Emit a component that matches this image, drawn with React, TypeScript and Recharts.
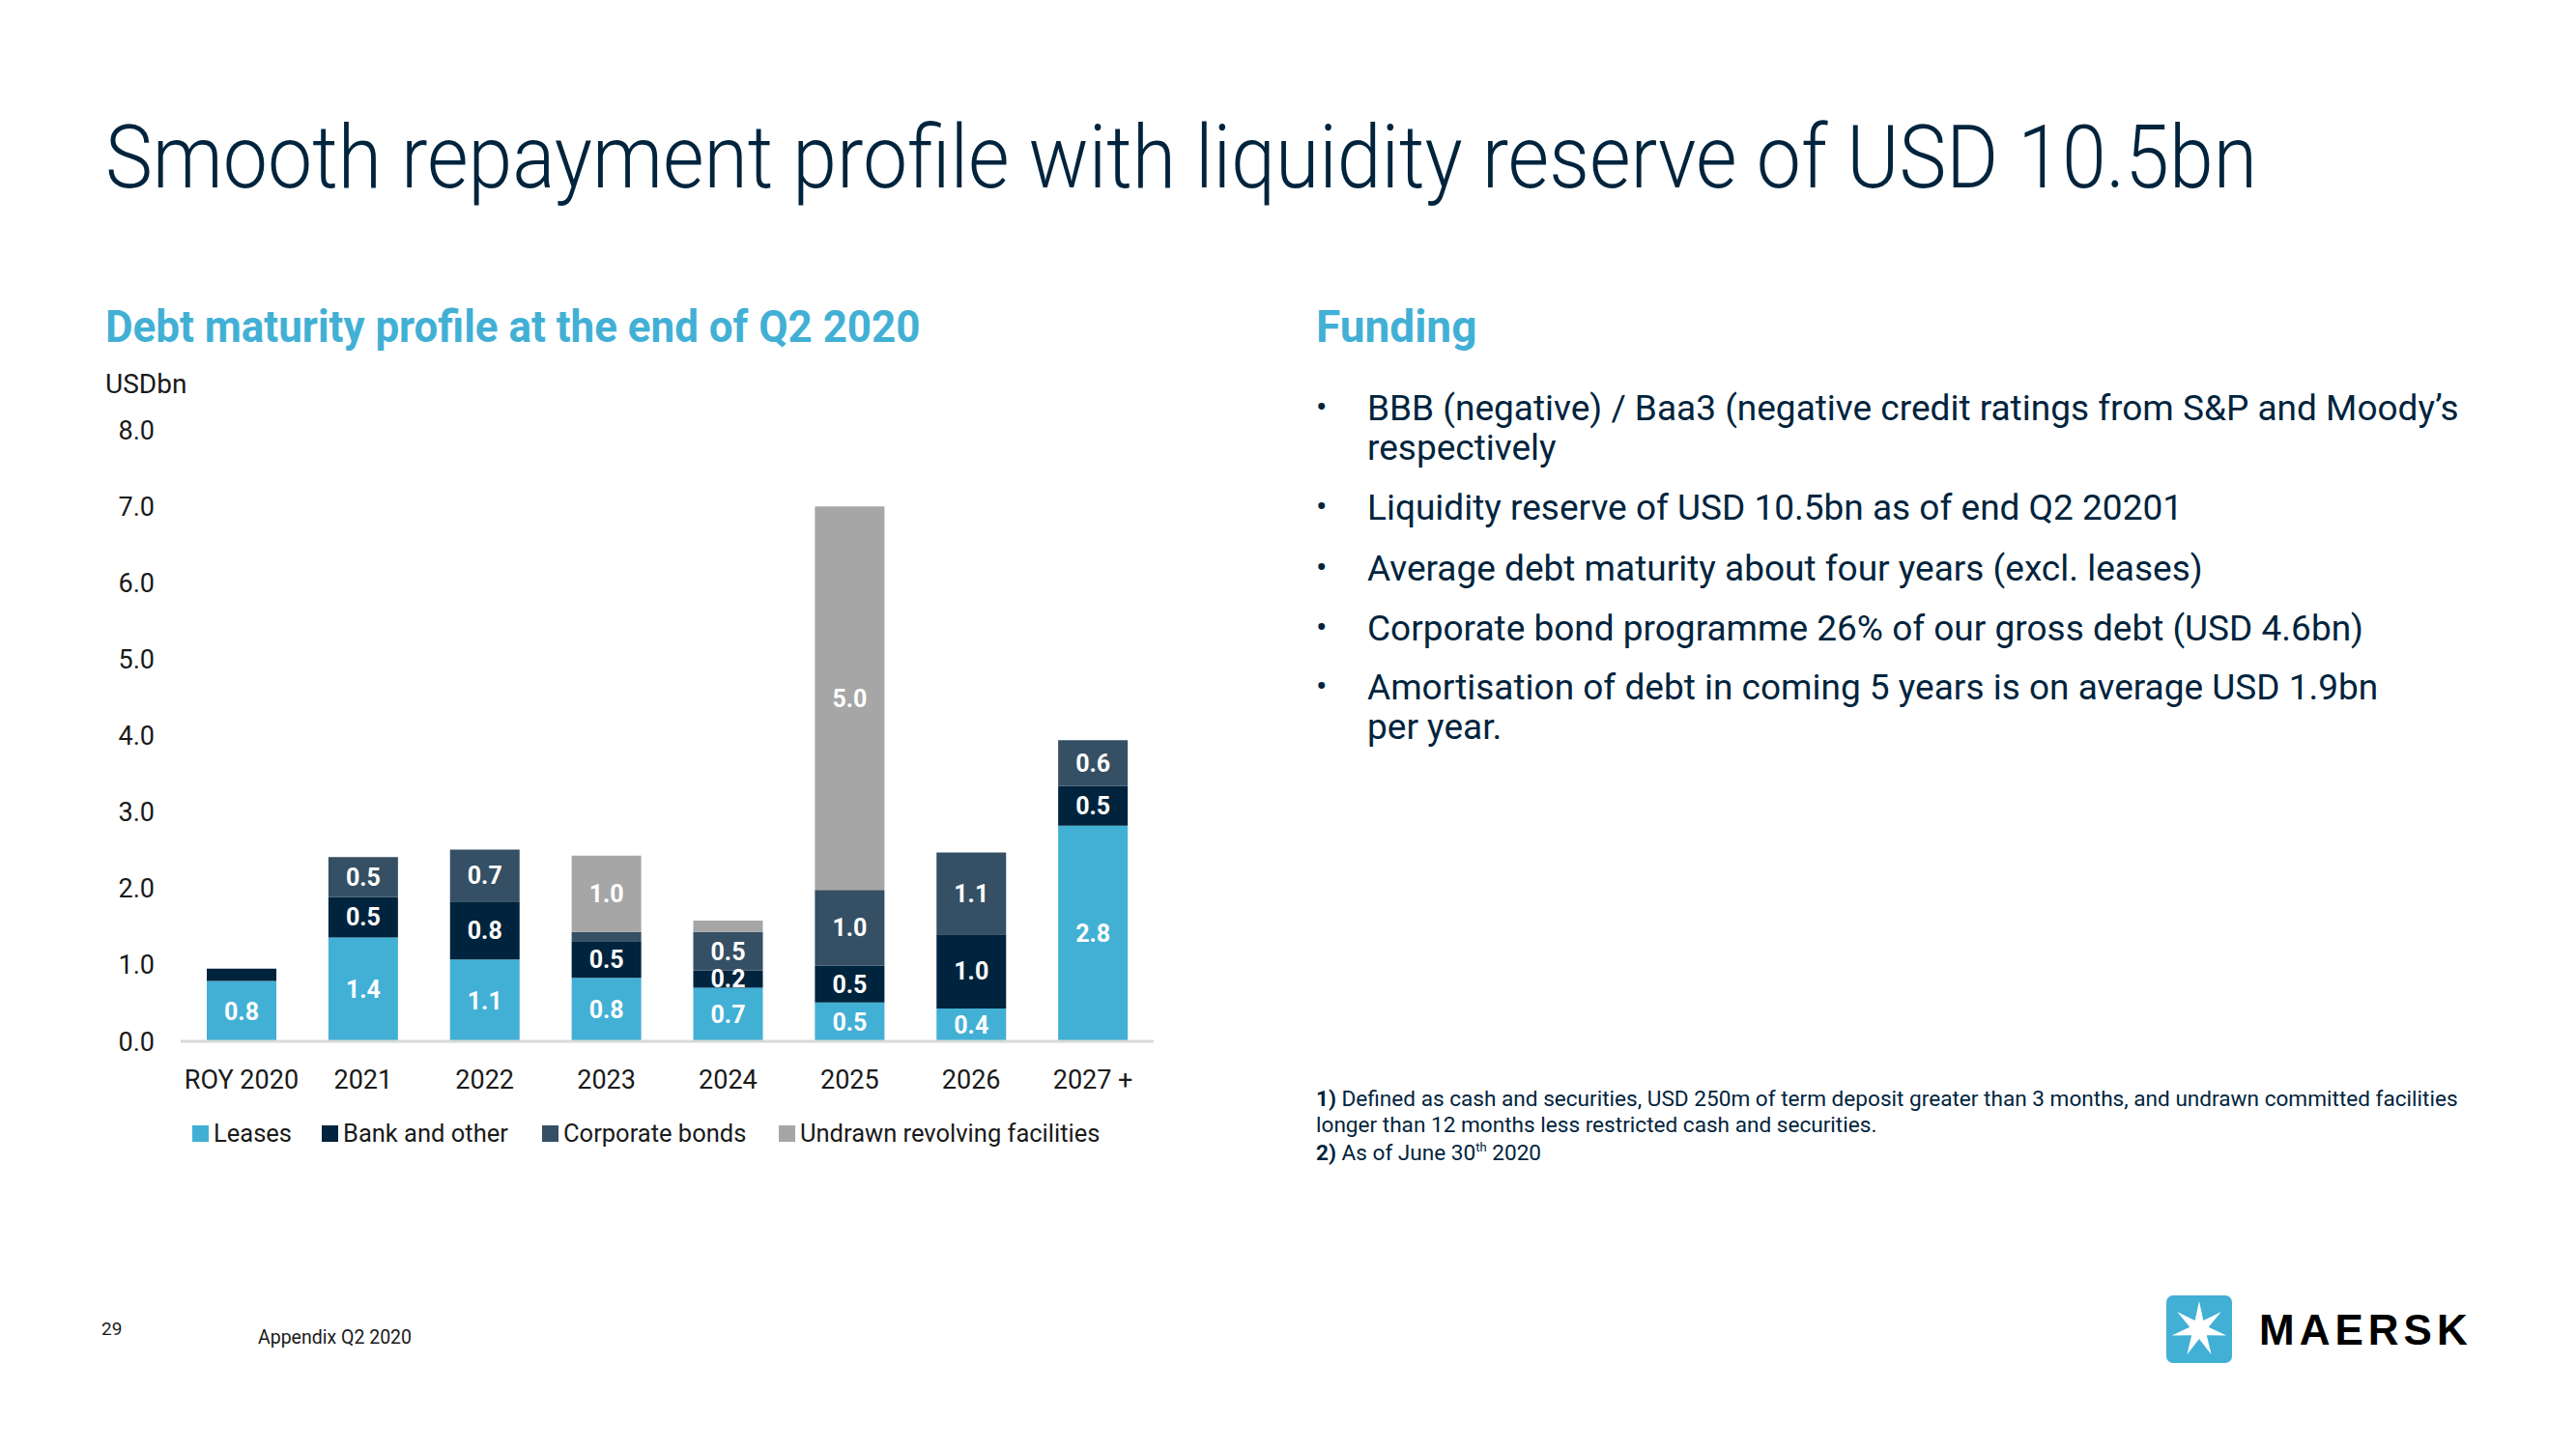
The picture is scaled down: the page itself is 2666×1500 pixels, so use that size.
import React from 'react';
import { BarChart, Bar, XAxis, YAxis, LabelList } from 'recharts';

const categories = ['ROY 2020', '2021', '2022', '2023', '2024', '2025', '2026', '2027 +'];
const leases = [0.79, 1.36, 1.07, 0.83, 0.7, 0.51, 0.43, 2.82];
const bankAndOther = [0.16, 0.53, 0.76, 0.48, 0.23, 0.48, 0.97, 0.52];
const corporateBonds = [0, 0.52, 0.68, 0.12, 0.5, 0.99, 1.07, 0.6];
const undrawnFacilities = [0, 0, 0, 1.0, 0.15, 5.02, 0, 0];
const yTicks = [0, 1, 2, 3, 4, 5, 6, 7, 8];

const seriesList = [
    { key: 'leases', name: 'Leases', color: '#42B0D5' },
    { key: 'bank', name: 'Bank and other', color: '#00243D' },
    { key: 'bonds', name: 'Corporate bonds', color: '#354F64' },
    { key: 'undrawn', name: 'Undrawn revolving facilities', color: '#A6A6A6' },
];

const bullets = [
    ['BBB (negative) / Baa3 (negative credit ratings from S&P and Moody\u2019s', 'respectively'],
    ['Liquidity reserve of USD 10.5bn as of end Q2 20201'],
    ['Average debt maturity about four years (excl. leases)'],
    ['Corporate bond programme 26% of our gross debt (USD 4.6bn)'],
    ['Amortisation of debt in coming 5 years is on average USD 1.9bn', 'per year.'],
];

const data = categories.map((name, i) => ({
    name,
    leases: leases[i],
    bank: bankAndOther[i],
    bonds: corporateBonds[i],
    undrawn: undrawnFacilities[i],
}));

const NAVY = '#00243D';
const BLUE = '#42B0D5';
const FONT = 'Roboto, "Noto Sans", sans-serif';

// hide labels on the thin unlabeled slivers
const fmt = (v: any) => (typeof v === 'number' && v >= 0.2 ? v.toFixed(1) : '');

const abs = (left: number, top: number, extra: React.CSSProperties = {}): React.CSSProperties => ({
    position: 'absolute', left, top, lineHeight: 1, whiteSpace: 'nowrap', ...extra,
});

const starPoints = (cx: number, cy: number, outer: number, inner: number, n: number) => {
    const pts: string[] = [];
    for (let i = 0; i < n * 2; i++) {
        const r = i % 2 === 0 ? outer : inner;
        const a = -Math.PI / 2 + (i * Math.PI) / n;
        pts.push(`${cx + r * Math.cos(a)},${cy + r * Math.sin(a)}`);
    }
    return pts.join(' ');
};

const App: React.FC = () => {
    return (
        <div style={{ position: 'absolute', left: 0, top: 0, width: 2666, height: 1500, background: '#fff', fontFamily: FONT, color: NAVY }}>
            <div style={abs(109, 119, { fontSize: 90, fontWeight: 300, transform: 'scaleX(0.915)', transformOrigin: 'left' })}>
                Smooth repayment profile with liquidity reserve of USD 10.5bn
            </div>

            <div style={abs(109, 315, { fontSize: 46, fontWeight: 700, color: BLUE, transform: 'scaleX(0.955)', transformOrigin: 'left' })}>
                Debt maturity profile at the end of Q2 2020
            </div>
            <div style={abs(109, 384, { fontSize: 28, color: '#1a1a1a' })}>USDbn</div>

            <div style={{ position: 'absolute', left: 100, top: 400 }}>
                <BarChart width={1110} height={740} data={data} margin={{ top: 45, right: 16, left: 0, bottom: 0 }} barSize={72}>
                    <XAxis
                        dataKey="name"
                        height={62}
                        tickLine={false}
                        tickSize={0}
                        tickMargin={30}
                        axisLine={{ stroke: '#D9D9D9', strokeWidth: 3 }}
                        tick={{ fill: '#1a1a1a', fontSize: 27 }}
                    />
                    <YAxis
                        width={87}
                        domain={[0, 8]}
                        ticks={yTicks}
                        tickFormatter={(v: number) => v.toFixed(1)}
                        axisLine={false}
                        tickLine={false}
                        tickSize={0}
                        tickMargin={27}
                        tick={{ fill: '#1a1a1a', fontSize: 27 }}
                    />
                    {seriesList.map((s) => (
                        <Bar key={s.key} dataKey={s.key} name={s.name} stackId="debt" fill={s.color} isAnimationActive={false}>
                            <LabelList dataKey={s.key} position="center" formatter={fmt} fill="#fff" fontSize={25} fontWeight={700} />
                        </Bar>
                    ))}
                </BarChart>
            </div>

            {seriesList.map((s, i) => {
                const xs = [199, 333, 561, 806];
                return (
                    <div key={s.key} style={abs(xs[i], 1161, { display: 'flex', alignItems: 'center', fontSize: 25.5, color: '#1a1a1a' })}>
                        <span style={{ display: 'inline-block', width: 17, height: 17, background: s.color, marginRight: 5 }} />
                        {s.name}
                    </div>
                );
            })}

            <div style={abs(1362, 315, { fontSize: 46, fontWeight: 700, color: BLUE })}>Funding</div>
            {bullets.map((lines, i) => {
                const tops = [404, 507, 570, 632, 693];
                return (
                    <div key={i} style={abs(1362, tops[i], { fontSize: 37 })}>
                        <span style={{ position: 'absolute', left: 0, top: 0, fontSize: 34 }}>{'\u2022'}</span>
                        {lines.map((ln, j) => (
                            <div key={j} style={{ position: 'absolute', left: 53, top: j * 41 }}>{ln}</div>
                        ))}
                    </div>
                );
            })}

            <div style={abs(1362, 1127, { fontSize: 22.6 })}>
                <b>1)</b> Defined as cash and securities, USD 250m of term deposit greater than 3 months, and undrawn committed facilities
            </div>
            <div style={abs(1362, 1154, { fontSize: 22.6 })}>longer than 12 months less restricted cash and securities.</div>
            <div style={abs(1362, 1181, { fontSize: 22.6 })}>
                <b>2)</b> As of June 30<sup style={{ fontSize: 13 }}>th</sup> 2020
            </div>

            <div style={abs(105, 1366, { fontSize: 19, color: '#1a1a1a' })}>29</div>
            <div style={abs(267, 1375, { fontSize: 19.5, color: '#1a1a1a' })}>Appendix Q2 2020</div>

            <svg style={{ position: 'absolute', left: 2240, top: 1338 }} width={76} height={76}>
                <rect x={2} y={3} width={68} height={70} rx={7} fill={BLUE} />
                <polygon points={starPoints(36, 38, 29, 10, 7)} fill="#fff" />
            </svg>
            <div style={abs(2338, 1355, { fontSize: 44, fontWeight: 900, color: '#000', fontFamily: '"Liberation Sans", Arial, sans-serif', letterSpacing: 5 })}>
                MAERSK
            </div>
        </div>
    );
};

export default App;
